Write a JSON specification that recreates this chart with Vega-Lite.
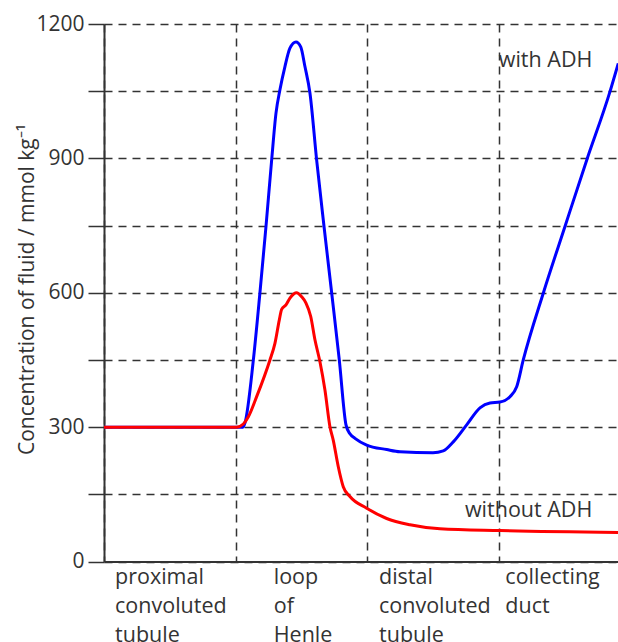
{
  "$schema": "https://vega.github.io/schema/vega-lite/v6.json",
  "width": 514,
  "height": 537.5,
  "autosize": {"type": "none"},
  "padding": {"left": 104, "top": 24, "right": 0, "bottom": 80.5},
  "config": {"view": {"stroke": null}, "font": "Open Sans"},
  "datasets": {
    "curves": [
      {"series": "with ADH", "pos": 0, "conc": 300},
      {"series": "with ADH", "pos": 1.056, "conc": 300},
      {"series": "with ADH", "pos": 1.071, "conc": 309},
      {"series": "with ADH", "pos": 1.135, "conc": 450},
      {"series": "with ADH", "pos": 1.185, "conc": 600},
      {"series": "with ADH", "pos": 1.231, "conc": 748},
      {"series": "with ADH", "pos": 1.274, "conc": 896},
      {"series": "with ADH", "pos": 1.307, "conc": 1001},
      {"series": "with ADH", "pos": 1.337, "conc": 1053},
      {"series": "with ADH", "pos": 1.375, "conc": 1105},
      {"series": "with ADH", "pos": 1.413, "conc": 1146},
      {"series": "with ADH", "pos": 1.459, "conc": 1160},
      {"series": "with ADH", "pos": 1.495, "conc": 1149},
      {"series": "with ADH", "pos": 1.527, "conc": 1105},
      {"series": "with ADH", "pos": 1.565, "conc": 1046},
      {"series": "with ADH", "pos": 1.616, "conc": 896},
      {"series": "with ADH", "pos": 1.672, "conc": 748},
      {"series": "with ADH", "pos": 1.73, "conc": 600},
      {"series": "with ADH", "pos": 1.788, "conc": 450},
      {"series": "with ADH", "pos": 1.839, "conc": 305},
      {"series": "with ADH", "pos": 1.869, "conc": 285},
      {"series": "with ADH", "pos": 1.907, "conc": 275},
      {"series": "with ADH", "pos": 1.996, "conc": 260},
      {"series": "with ADH", "pos": 2.148, "conc": 250},
      {"series": "with ADH", "pos": 2.249, "conc": 245},
      {"series": "with ADH", "pos": 2.5, "conc": 243},
      {"series": "with ADH", "pos": 2.578, "conc": 247},
      {"series": "with ADH", "pos": 2.654, "conc": 267},
      {"series": "with ADH", "pos": 2.756, "conc": 305},
      {"series": "with ADH", "pos": 2.857, "conc": 343},
      {"series": "with ADH", "pos": 2.933, "conc": 354},
      {"series": "with ADH", "pos": 3.009, "conc": 356},
      {"series": "with ADH", "pos": 3.085, "conc": 368},
      {"series": "with ADH", "pos": 3.136, "conc": 390},
      {"series": "with ADH", "pos": 3.186, "conc": 450},
      {"series": "with ADH", "pos": 3.338, "conc": 599},
      {"series": "with ADH", "pos": 3.503, "conc": 748},
      {"series": "with ADH", "pos": 3.668, "conc": 896},
      {"series": "with ADH", "pos": 3.845, "conc": 1049},
      {"series": "with ADH", "pos": 3.908, "conc": 1112},
      {"series": "without ADH", "pos": 0, "conc": 300},
      {"series": "without ADH", "pos": 1.008, "conc": 300},
      {"series": "without ADH", "pos": 1.059, "conc": 307},
      {"series": "without ADH", "pos": 1.097, "conc": 323},
      {"series": "without ADH", "pos": 1.16, "conc": 368},
      {"series": "without ADH", "pos": 1.261, "conc": 450},
      {"series": "without ADH", "pos": 1.299, "conc": 487},
      {"series": "without ADH", "pos": 1.332, "conc": 539},
      {"series": "without ADH", "pos": 1.35, "conc": 563},
      {"series": "without ADH", "pos": 1.383, "conc": 573},
      {"series": "without ADH", "pos": 1.413, "conc": 588},
      {"series": "without ADH", "pos": 1.464, "conc": 600},
      {"series": "without ADH", "pos": 1.502, "conc": 591},
      {"series": "without ADH", "pos": 1.535, "conc": 577},
      {"series": "without ADH", "pos": 1.571, "conc": 547},
      {"series": "without ADH", "pos": 1.603, "conc": 495},
      {"series": "without ADH", "pos": 1.641, "conc": 446},
      {"series": "without ADH", "pos": 1.679, "conc": 383},
      {"series": "without ADH", "pos": 1.717, "conc": 301},
      {"series": "without ADH", "pos": 1.742, "conc": 271},
      {"series": "without ADH", "pos": 1.78, "conc": 212},
      {"series": "without ADH", "pos": 1.818, "conc": 167},
      {"series": "without ADH", "pos": 1.869, "conc": 145},
      {"series": "without ADH", "pos": 1.996, "conc": 119},
      {"series": "without ADH", "pos": 2.148, "conc": 96},
      {"series": "without ADH", "pos": 2.325, "conc": 82},
      {"series": "without ADH", "pos": 2.553, "conc": 73},
      {"series": "without ADH", "pos": 3.009, "conc": 69},
      {"series": "without ADH", "pos": 3.906, "conc": 65}
    ],
    "notes": [
      {"label": "with ADH", "pos": 3.0, "conc": 1104},
      {"label": "without ADH", "pos": 2.743, "conc": 100}
    ],
    "segments": [
      {"name": "proximal\nconvoluted\ntubule", "pos": 0.084},
      {"name": "loop\nof\nHenle", "pos": 1.29},
      {"name": "distal\nconvoluted\ntubule", "pos": 2.09},
      {"name": "collecting\nduct", "pos": 3.05}
    ]
  },
  "layer": [
    {
      "data": {"name": "curves"},
      "mark": {"type": "line", "strokeWidth": 3, "interpolate": "monotone", "clip": true},
      "encoding": {
        "x": {
          "field": "pos", "type": "quantitative",
          "scale": {"domain": [0, 3.906], "nice": false, "zero": false},
          "axis": {
            "values": [0, 1, 2, 3], "grid": true, "gridDash": [8, 6], "gridColor": "#333", "gridWidth": 1.5,
            "ticks": false, "labels": false, "title": null,
            "domainColor": "#333", "domainWidth": 2
          }
        },
        "y": {
          "field": "conc", "type": "quantitative",
          "scale": {"domain": [0, 1200], "nice": false},
          "axis": {
            "values": [0, 150, 300, 450, 600, 750, 900, 1050, 1200],
            "labelExpr": "datum.value % 300 === 0 ? datum.label : ''",
            "format": "d",
            "grid": true, "gridDash": [8, 6], "gridColor": "#333", "gridWidth": 1.5,
            "tickSize": 16, "tickColor": "#333", "tickWidth": 1.5,
            "domainColor": "#333", "domainWidth": 2,
            "labelFontSize": 21, "labelColor": "#333", "labelPadding": 4,
            "title": "Concentration of fluid / mmol kg⁻¹",
            "titleFontSize": 21, "titleFontWeight": "normal", "titleColor": "#333",
            "titleX": -71, "titleY": 265, "titleAlign": "center", "titleBaseline": "alphabetic", "titleAngle": -90
          }
        },
        "color": {
          "field": "series", "type": "nominal",
          "scale": {"domain": ["with ADH", "without ADH"], "range": ["#0000ff", "#ff0000"]},
          "legend": null
        }
      }
    },
    {
      "data": {"name": "notes"},
      "mark": {"type": "text", "align": "left", "baseline": "alphabetic", "fontSize": 21.5, "color": "#333"},
      "encoding": {
        "x": {"field": "pos", "type": "quantitative"},
        "y": {"field": "conc", "type": "quantitative"},
        "text": {"field": "label"}
      }
    },
    {
      "data": {"name": "segments"},
      "mark": {"type": "text", "align": "left", "baseline": "alphabetic", "fontSize": 21.5, "color": "#333", "lineBreak": "\n", "lineHeight": 29, "clip": false},
      "encoding": {
        "x": {"field": "pos", "type": "quantitative"},
        "y": {"datum": -50},
        "text": {"field": "name"}
      }
    }
  ]
}
